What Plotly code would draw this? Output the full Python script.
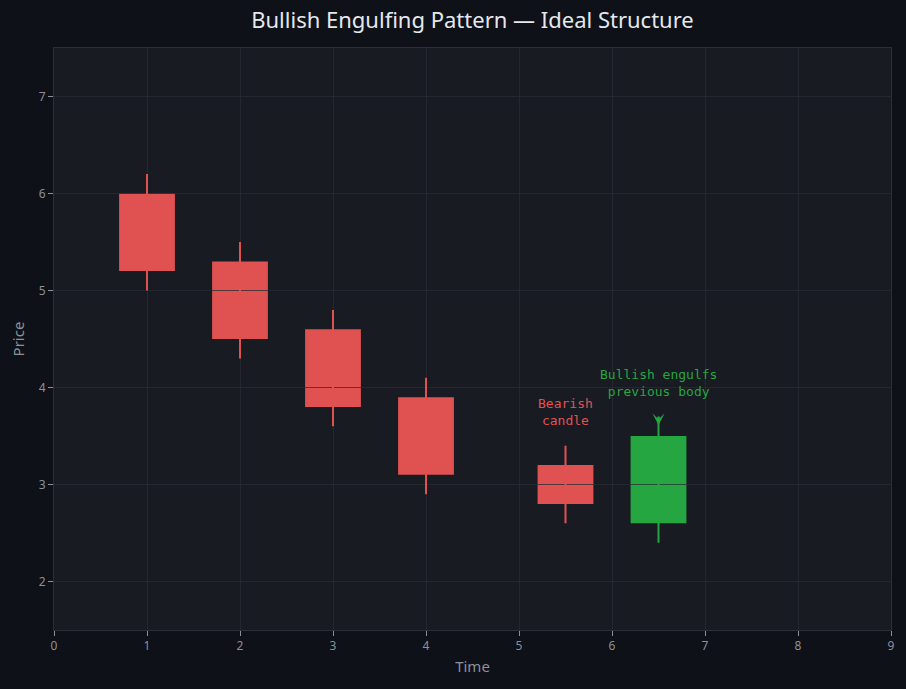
import plotly.graph_objects as go

# Data
x_pos = [1, 2, 3, 4, 5.5, 6.5]
opens = [6.0, 5.3, 4.6, 3.9, 3.2, 2.6]
closes = [5.2, 4.5, 3.8, 3.1, 2.8, 3.5]
highs = [6.2, 5.5, 4.8, 4.1, 3.4, 3.7]
lows = [5.0, 4.3, 3.6, 2.9, 2.6, 2.4]

x_ticks = [0, 1, 2, 3, 4, 5, 6, 7, 8, 9]
y_ticks = [2, 3, 4, 5, 6, 7]

RED = "#e05252"
GREEN = "#26a641"
HALF_W = 0.3

fig = go.Figure()

shapes = []
for xi, o, c, h, l in zip(x_pos, opens, closes, highs, lows):
    col = GREEN if c > o else RED
    shapes.append(dict(type="rect", xref="x", yref="y", layer="below",
                       x0=xi - HALF_W, x1=xi + HALF_W, y0=min(o, c), y1=max(o, c),
                       fillcolor=col, line=dict(width=0)))
    fig.add_trace(go.Scatter(x=[xi, xi], y=[l, h], mode="lines",
                             line=dict(color=col, width=2), hoverinfo="skip",
                             showlegend=False))

fig.update_layout(shapes=shapes)

fig.add_annotation(x=5.5, y=3.75, text="Bearish<br>candle", showarrow=False,
                   font=dict(family="DejaVu Sans Mono", size=13, color=RED))
fig.add_annotation(x=6.5, y=4.05, text="Bullish engulfs<br>previous body", showarrow=False,
                   font=dict(family="DejaVu Sans Mono", size=13, color=GREEN))
fig.add_annotation(x=6.5, y=3.61, ax=0, ay=-10, text="", showarrow=True,
                   arrowhead=3, arrowsize=1, arrowwidth=2, arrowcolor=GREEN)

GRID = "rgba(40,44,52,0.75)"
fig.update_layout(
    width=906, height=689,
    paper_bgcolor="#0e1118",
    plot_bgcolor="#181b22",
    margin=dict(l=54, r=15, t=48, b=59),
    title=dict(text="Bullish Engulfing Pattern — Ideal Structure", x=0.5, xref="paper",
               xanchor="center", y=1 - 20 / 689, yanchor="middle",
               font=dict(family="Noto Sans", size=22, color="#e6e8ec")),
    font=dict(family="Noto Sans", color="#8b9099", size=12),
    showlegend=False,
    xaxis=dict(range=[0, 9], tickvals=x_ticks, showgrid=True, gridcolor=GRID, zeroline=False,
               showline=True, mirror=True, linecolor="#2b2f38", ticks="outside", ticklen=5,
               tickcolor="#8b9099",
               title=dict(text="Time", font=dict(size=15, color="#8b9099"), standoff=8)),
    yaxis=dict(range=[1.5, 7.5], tickvals=y_ticks, showgrid=True, gridcolor=GRID, zeroline=False,
               showline=True, mirror=True, linecolor="#2b2f38", ticks="outside", ticklen=5,
               tickcolor="#8b9099",
               title=dict(text="Price", font=dict(size=15, color="#8b9099"), standoff=10)),
)

fig.write_html("out.html", config={"displayModeBar": False},
               post_script="document.body.style.margin='0';document.body.style.overflow='hidden';document.body.style.background='#0e1118';")
